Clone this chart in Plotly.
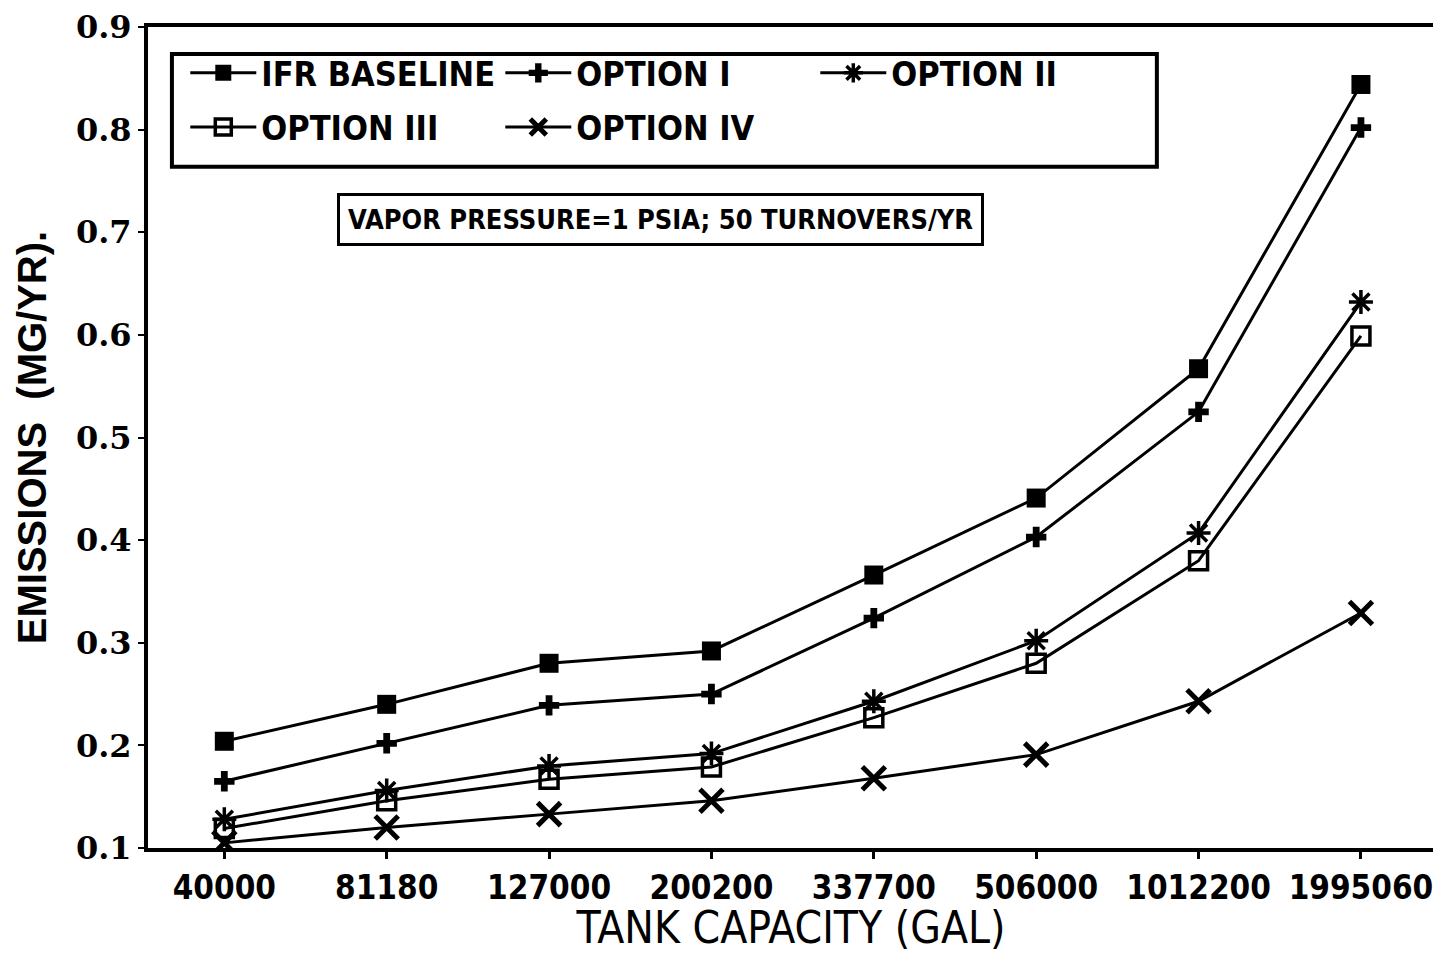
import plotly.graph_objects as go

categories = ["40000", "81180", "127000", "200200", "337700", "506000", "1012200", "1995060"]
ifr_baseline = [0.204, 0.240, 0.280, 0.292, 0.366, 0.441, 0.567, 0.844]
option_i = [0.165, 0.202, 0.239, 0.250, 0.324, 0.403, 0.525, 0.802]
option_ii = [0.128, 0.156, 0.180, 0.192, 0.243, 0.302, 0.407, 0.632]
option_iii = [0.119, 0.146, 0.167, 0.179, 0.227, 0.280, 0.380, 0.599]
option_iv = [0.105, 0.120, 0.133, 0.146, 0.168, 0.191, 0.243, 0.329]
y_ticks = [0.1, 0.2, 0.3, 0.4, 0.5, 0.6, 0.7, 0.8, 0.9]
y_ticklabels = ["0.1", "0.2", "0.3", "0.4", "0.5", "0.6", "0.7", "0.8", "0.9"]

NARROW = "DejaVu Sans Condensed, Liberation Sans, sans-serif"

# page has an 8px body margin; plot area target in window pixels: x 148..1438, y 25..848
W, H = 1430, 945
L, R, T, B = 140, 0, 17, 105
PW, PH = W - L - R, H - T - B


def px_x(x):
    return (x - 8 - L) / PW


def px_y(y):
    return (H - B - (y - 8)) / PH


series = [
    ("IFR BASELINE", ifr_baseline, dict(symbol="square", size=19, color="black"), "legend"),
    ("OPTION I", option_i, dict(symbol="cross", size=17, color="black"), "legend"),
    ("OPTION II", option_ii, dict(symbol="asterisk-open", size=20, color="black",
                                  line=dict(width=3.5, color="black")), "legend"),
    ("OPTION III", option_iii, dict(symbol="square-open", size=18, color="black",
                                    line=dict(width=3.5, color="black")), "legend2"),
    ("OPTION IV", option_iv, dict(symbol="x-thin-open", size=23, color="black",
                                  line=dict(width=5, color="black")), "legend2"),
]

fig = go.Figure()
for name, vals, marker, leg in series:
    fig.add_trace(go.Scatter(
        x=categories, y=vals, name=name, mode="lines+markers",
        line=dict(color="black", width=3), marker=marker, legend=leg,
    ))

legend_common = dict(
    orientation="h", xanchor="left", yanchor="top",
    font=dict(family=NARROW, size=34, color="black", weight="bold"),
    itemwidth=66, entrywidth=234, bgcolor="rgba(0,0,0,0)",
)

fig.update_layout(
    width=W, height=H,
    paper_bgcolor="white", plot_bgcolor="white",
    margin=dict(l=L, r=R, t=T, b=B),
    showlegend=True,
    legend=dict(x=0.029, y=0.979, **legend_common),
    legend2=dict(x=0.029, y=0.913, **legend_common),
    xaxis=dict(
        type="category", range=[-0.47, 7.45],
        showline=True, linecolor="black", linewidth=4, mirror=True,
        ticks="outside", ticklen=7, tickwidth=3, tickcolor="black",
        showgrid=False, zeroline=False, ticklabeloverflow="allow",
        tickfont=dict(family=NARROW, size=33, color="black", weight="bold"),
        title=dict(text="TANK CAPACITY (GAL)", standoff=16,
                   font=dict(family=NARROW, size=44, color="black")),
    ),
    yaxis=dict(
        range=[0.1, 0.9], tickvals=y_ticks, ticktext=y_ticklabels,
        showline=True, linecolor="black", linewidth=4, mirror=True,
        ticks="outside", ticklen=6, tickwidth=2, tickcolor="black",
        showgrid=False, zeroline=False, ticklabeloverflow="allow",
        tickfont=dict(family="DejaVu Serif", size=32, color="black", weight="bold"),
        title=dict(text="EMISSIONS  (MG/YR).", standoff=18,
                   font=dict(family="Liberation Sans", size=40, color="black", weight="bold")),
    ),
    shapes=[
        dict(type="rect", xref="paper", yref="paper",
             x0=px_x(172), x1=px_x(1160), y0=px_y(165), y1=px_y(52),
             line=dict(color="black", width=4), fillcolor="rgba(0,0,0,0)"),
    ],
    annotations=[
        dict(text="VAPOR PRESSURE=1 PSIA; 50 TURNOVERS/YR", xref="paper", yref="paper",
             x=px_x(662), y=px_y(218), xanchor="center", yanchor="middle", showarrow=False,
             font=dict(family=NARROW, size=27, color="black", weight="bold"),
             bordercolor="black", borderwidth=3, borderpad=8, bgcolor="white"),
    ],
)

fig.write_html("out.html")
